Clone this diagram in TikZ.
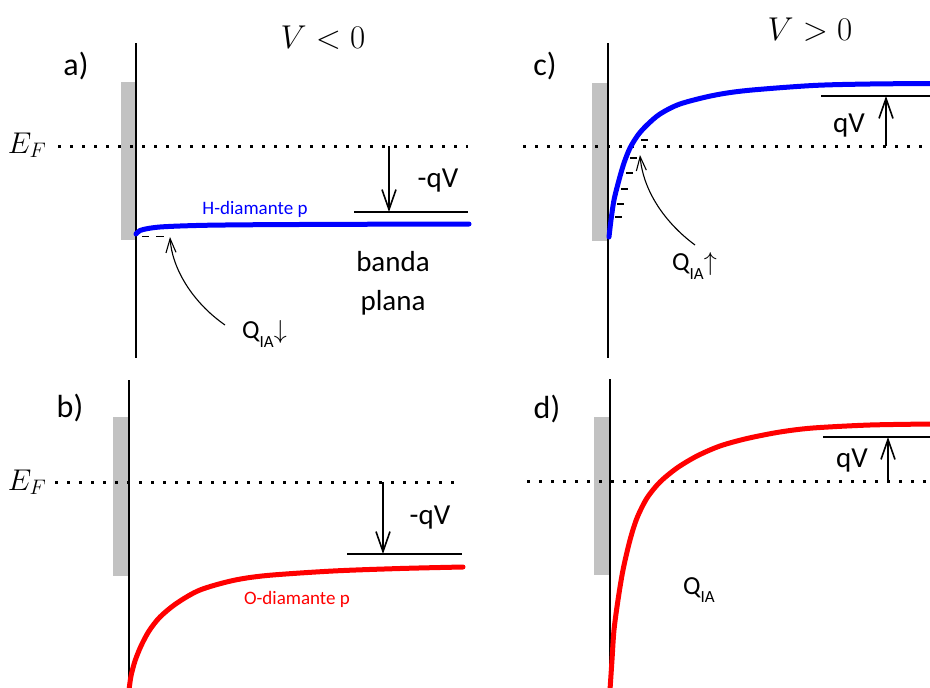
\RequirePackage{fix-cm}
\documentclass[tikz,border=0pt]{standalone}
\usepackage[no-math]{fontspec}
\setmainfont{Carlito}
\usetikzlibrary{arrows.meta}
\definecolor{gategray}{RGB}{194,194,194}
\definecolor{bandblue}{RGB}{0,0,255}
\definecolor{bandred}{RGB}{255,0,0}
\begin{document}
\begin{tikzpicture}[x=1pt,y=-1pt,
  wall/.style={line width=2pt},
  gatebox/.style={fill=gategray,draw=none},
  fermi/.style={line width=3pt,dash pattern=on 3pt off 9pt},
  reflevel/.style={line width=1.8pt},
  vshift/.style={line width=1.6pt,-{Straight Barb[length=20pt,width=14pt,line width=1.6pt]}},
  qarrow/.style={line width=1.1pt,-{Straight Barb[length=14pt,width=10pt,line width=1.1pt]}},
  trap/.style={line width=1.6pt},
  blueband/.style={line width=5pt,bandblue,line cap=round},
  redband/.style={line width=5pt,bandred,line cap=round},
  panlab/.style={inner sep=0pt,font=\fontsize{32}{32}\selectfont},
  bigtxt/.style={inner sep=0pt,font=\fontsize{29}{39}\selectfont},
  mathlab/.style={inner sep=0pt,font=\fontsize{33}{33}\selectfont},
  eflab/.style={inner sep=0pt,font=\fontsize{30}{30}\selectfont},
  qlab/.style={inner sep=0pt,font=\fontsize{26}{26}\selectfont},
  bandlab/.style={inner sep=0pt,font=\fontsize{19}{19}\selectfont},
]
\useasboundingbox (0,0) rectangle (930,688);
\fill[white] (0,0) rectangle (930,688);

% ---------- panel a ----------
\fill[gatebox] (121,82) rectangle (136,240);
\coordinate (aw1) at (136,43); \coordinate (aw2) at (136,358);
\draw[wall] (aw1) -- (aw2);
\coordinate (af1) at (58,146); \coordinate (af2) at (468,146);
\draw[fermi] (af1) -- (af2);
\draw[blueband] plot[smooth] coordinates {(136,234) (140,230.5) (148,228.5) (160,227) (180,226) (210,225.2) (260,224.7) (350,224.3) (469,224)};
\draw[trap] (142,236.5) -- (149,236.5);
\draw[trap] (156,236.5) -- (164,236.5);
\coordinate (al1) at (354,212); \coordinate (al2) at (468,212);
\draw[reflevel] (al1) -- (al2);
\coordinate (as1) at (389,146); \coordinate (as2) at (389,212);
\draw[vshift] (as1) -- (as2);
\coordinate (aq1) at (225,325); \coordinate (aq2) at (170,237);
\draw[qarrow] (aq1) .. controls (192,302) and (172,268) .. (aq2);
\node[panlab] (la) at (76,66) {a)};
\node[mathlab] (vneg) at (323,38) {$V<0$};
\node[eflab] (efa) at (27,145) {$E_F$};
\node[bigtxt] (qva) at (438,181) {-qV};
\node[bigtxt,align=center] (flat) at (393,283) {banda\\plana};
\node[bandlab,text=bandblue] (hd) at (255,209) {H-diamante p};
\node[qlab,anchor=west] (qa) at (242,334) {Q\raisebox{-0.32em}{\fontsize{17}{17}\selectfont IA}{\fontsize{26}{26}\selectfont$\downarrow$}};

% ---------- panel c ----------
\fill[gatebox] (592,83) rectangle (608,241);
\coordinate (cw1) at (608,43); \coordinate (cw2) at (608,358);
\draw[wall] (cw1) -- (cw2);
\coordinate (cf1) at (523,146); \coordinate (cf2) at (930,146);
\draw[fermi] (cf1) -- (cf2);
\draw[blueband] plot[smooth] coordinates {(609,237) (611,220) (614,200) (619,180) (624,163) (630,148) (638,135) (647,125) (660,114) (680,104) (713,95.5) (747,90.5) (813,85.5) (870,84) (932,83.5)};
\foreach \ya/\xa in {140/641,158/630,173/626,189/621,204/617,217/615}
  \draw[trap] (\xa,\ya) -- ++(7,0);
\coordinate (cl1) at (821,96); \coordinate (cl2) at (930,96);
\draw[reflevel] (cl1) -- (cl2);
\coordinate (cs1) at (886,146); \coordinate (cs2) at (886,96);
\draw[vshift] (cs1) -- (cs2);
\coordinate (cq1) at (695,245); \coordinate (cq2) at (640,155);
\draw[qarrow] (cq1) .. controls (664,222) and (643,190) .. (cq2);
\node[panlab] (lc) at (545,66) {c)};
\node[mathlab] (vpos) at (810,30) {$V>0$};
\node[bigtxt] (qvc) at (849,126) {qV};
\node[qlab,anchor=west] (qc) at (672,266) {Q\raisebox{-0.32em}{\fontsize{17}{17}\selectfont IA}{\fontsize{26}{26}\selectfont$\uparrow$}};

% ---------- panel b ----------
\fill[gatebox] (113,417) rectangle (129,576);
\coordinate (bw1) at (129,380); \coordinate (bw2) at (129,688);
\draw[wall] (bw1) -- (bw2);
\coordinate (bf1) at (55,482); \coordinate (bf2) at (458,482);
\draw[fermi] (bf1) -- (bf2);
\draw[redband] plot[smooth] coordinates {(129,690) (131,676) (135,661) (141,646) (149,631) (160,617) (177,603) (200,590) (233,580.5) (267,575.5) (333,571) (400,568.5) (463,567)};
\coordinate (bl1) at (347,554); \coordinate (bl2) at (462,554);
\draw[reflevel] (bl1) -- (bl2);
\coordinate (bs1) at (383,482); \coordinate (bs2) at (383,554);
\draw[vshift] (bs1) -- (bs2);
\node[panlab] (lb) at (70,408) {b)};
\node[eflab] (efb) at (27,482) {$E_F$};
\node[bigtxt] (qvb) at (430,518) {-qV};
\node[bandlab,text=bandred] (od) at (297,599) {O-diamante p};

% ---------- panel d ----------
\fill[gatebox] (594,417) rectangle (610,575);
\coordinate (dw1) at (610,379); \coordinate (dw2) at (610,688);
\draw[wall] (dw1) -- (dw2);
\coordinate (df1) at (527,481); \coordinate (df2) at (930,481);
\draw[fermi] (df1) -- (df2);
\draw[redband] plot[smooth] coordinates {(610,690) (612,660) (614,630) (618,600) (623,570) (630,540) (637,518) (647,498) (660,482) (677,468) (697,456) (720,446) (747,438.5) (780,432) (813,428) (870,425) (932,424)};
\coordinate (dl1) at (823,437); \coordinate (dl2) at (930,437);
\draw[reflevel] (dl1) -- (dl2);
\coordinate (ds1) at (888,481); \coordinate (ds2) at (888,437);
\draw[vshift] (ds1) -- (ds2);
\node[panlab] (ld) at (547,409) {d)};
\node[bigtxt] (qvd) at (852,461) {qV};
\node[qlab,anchor=west] (qd) at (683,590) {Q\raisebox{-0.32em}{\fontsize{17}{17}\selectfont IA}};
\end{tikzpicture}
\end{document}
